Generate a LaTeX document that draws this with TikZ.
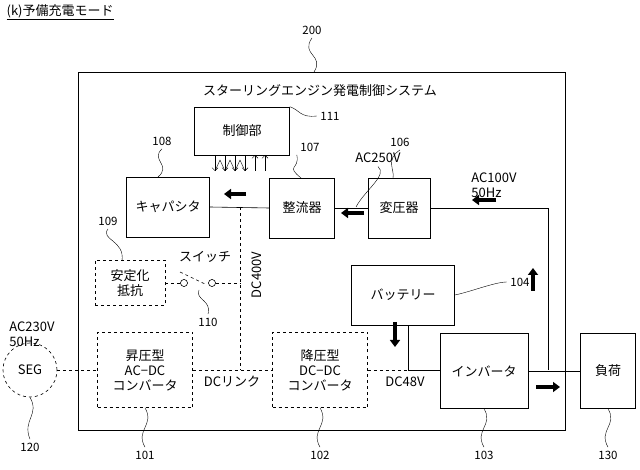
\documentclass[tikz,border=0pt]{standalone}
\usepackage{fontspec}
\setmainfont{Noto Sans CJK JP}
\usetikzlibrary{arrows.meta,positioning}
\begin{document}
\begin{tikzpicture}[x=1pt,y=-1pt,semithick,font=\fontsize{13}{15}\selectfont,
        blk/.style={draw,minimum width=#1,inner sep=2pt,align=center},
        dblk/.style={draw,dashed,minimum width=#1,align=center},
        fat/.style={line width=3.5pt,-{Triangle[length=7pt,width=10pt]}},
        tiny/.style={thin,-{Straight Barb[length=3pt]}},
        ref/.style={font=\fontsize{11.5}{13}\selectfont},
        sq/.style={thin}]
        \useasboundingbox (0,0) rectangle (640,470);
        \node[anchor=west] (title) at (3,12) {\underline{(k)予備充電モード}};
        % outer system
        \draw (78,72) rectangle (565,430);
        \node (sys) at (320,91) {スターリングエンジン発電制御システム};
        \node[ref] (r200) at (312,30) {200};
        \draw[sq] (r200.south) .. controls (300,55) and (325,55) .. (314,72);
        % blocks
        \node[blk=95pt,minimum height=48pt] (ctl) at (242,131) {制御部};
        \node[blk=83pt,minimum height=60pt] (cap) at (168,207) {キャパシタ};
        \node[blk=65pt,minimum height=60pt] (rec) at (302,208) {整流器};
        \node[blk=62pt,minimum height=60pt] (tra) at (399,208) {変圧器};
        \node[blk=103pt,minimum height=60pt] (bat) at (403,295) {バッテリー};
        \node[blk=88pt,minimum height=75pt] (inv) at (484,371) {インバータ};
        \node[blk=55pt,minimum height=75pt] (load) at (608,371) {負荷};
        \node[dblk=70pt,minimum height=45pt] (res) at (130,283) {安定化\\抵抗};
        \node[dblk=95pt,minimum height=75pt] (boost) at (145,370) {昇圧型\\AC−DC\\コンバータ};
        \node[dblk=95pt,minimum height=75pt] (buck) at (320,370) {降圧型\\DC−DC\\コンバータ};
        \node[draw,dashed,circle,minimum size=54pt,inner sep=0pt] (seg) at (30,370) {SEG};
        % switch
        \node[draw,circle,inner sep=2.5pt,fill=white] (s1) at (184,283) {};
        \node[draw,circle,inner sep=2.5pt,fill=white] (s2) at (212,283) {};
        \coordinate (jd) at (240,207);
        \coordinate (jl) at (240,370);
        \coordinate (jb) at (408,370);
        \coordinate (jr) at (548,208);
        \coordinate (jo) at (548,370);
        % wiring
        \draw (cap.east) -- (rec.west);
        \draw (rec.east) -- (tra.west);
        \draw (tra.east) -- (jr) -- (jo);
        \draw (inv.east) -- (load.west);
        \draw (bat.south -| jb) -- (jb) -- (inv.west |- jb);
        \draw[dashed] (jd) -- (jl);
        \draw[dashed] (seg.east) -- (boost.west);
        \draw[dashed] (boost.east) -- (buck.west);
        \draw[dashed] (buck.east) -- (jb);
        \draw[dashed] (res.east |- s1) -- (s1);
        \draw[dashed] (s2) -- (s2 -| jd);
        \draw[dashed] (180,272) -- (205,284);
        % flow arrows
        \draw[fat] (246,194) -- (224,194);
        \draw[fat] (364,213) -- (341,213);
        \draw[fat] (496,200) -- (472,200);
        \draw[fat] (533,291) -- (533,268);
        \draw[fat] (395,322) -- (395,347);
        \draw[fat] (536,387) -- (560,387);
        \foreach \x in {215,225,235,245} \draw[tiny] (\x,155) -- (\x,171);
        \foreach \x in {255,265} \draw[tiny] (\x,171) -- (\x,155);
        \foreach \x in {220,230,240} \draw[thin] (\x-5,171) -- (\x,160) -- (\x+5,171);
        % labels
        \node (ac250) at (378,158) {AC250V};
        \node[align=left] (ac100) at (494,185) {AC100V\\50Hz};
        \node[rotate=90] (dc400) at (257,275) {DC400V};
        \node (sw) at (205,257) {スイッチ};
        \node (dcl) at (232,382) {DCリンク};
        \node (dc48) at (405,382) {DC48V};
        \node[align=left] (ac230) at (32,334) {AC230V\\50Hz};
        % reference numbers
        \node[ref] (r111) at (330,116) {111};
        \node[ref] (r108) at (162,141) {108};
        \node[ref] (r107) at (310,147) {107};
        \node[ref] (r106) at (400,142) {106};
        \node[ref] (r109) at (108,221) {109};
        \node[ref] (r110) at (208,322) {110};
        \node[ref] (r104) at (520,282) {104};
        \node[ref] (r120) at (30,447) {120};
        \node[ref] (r101) at (145,455) {101};
        \node[ref] (r102) at (320,455) {102};
        \node[ref] (r103) at (484,455) {103};
        \node[ref] (r130) at (608,455) {130};
        \draw[sq] (r111.west) .. controls (300,118) and (300,110) .. (ctl.north east);
        \draw[sq] (r108.south) .. controls (150,160) and (172,165) .. (158,177);
        \draw[sq] (r107.south west) .. controls (300,170) and (285,165) .. (301,178);
        \draw[sq] (r106.south) .. controls (385,160) and (395,170) .. (393,178);
        \draw[sq] (r109.south) .. controls (100,240) and (125,240) .. (122,261);
        \draw[sq] (r110.north) .. controls (212,300) and (195,300) .. (199,290);
        \draw[sq] (ac250.south) .. controls (388,175) and (365,190) .. (356,207);
        \draw[sq] (r104.west) .. controls (495,282) and (470,292) .. (bat.east);
        \draw[sq] (seg.south) .. controls (40,415) and (22,420) .. (r120.north);
        \draw[sq] (boost.south) .. controls (155,425) and (135,430) .. (r101.north);
        \draw[sq] (buck.south) .. controls (330,425) and (310,430) .. (r102.north);
        \draw[sq] (inv.south) .. controls (494,425) and (474,430) .. (r103.north);
        \draw[sq] (load.south) .. controls (618,425) and (598,430) .. (r130.north);
\end{tikzpicture}
\end{document}
